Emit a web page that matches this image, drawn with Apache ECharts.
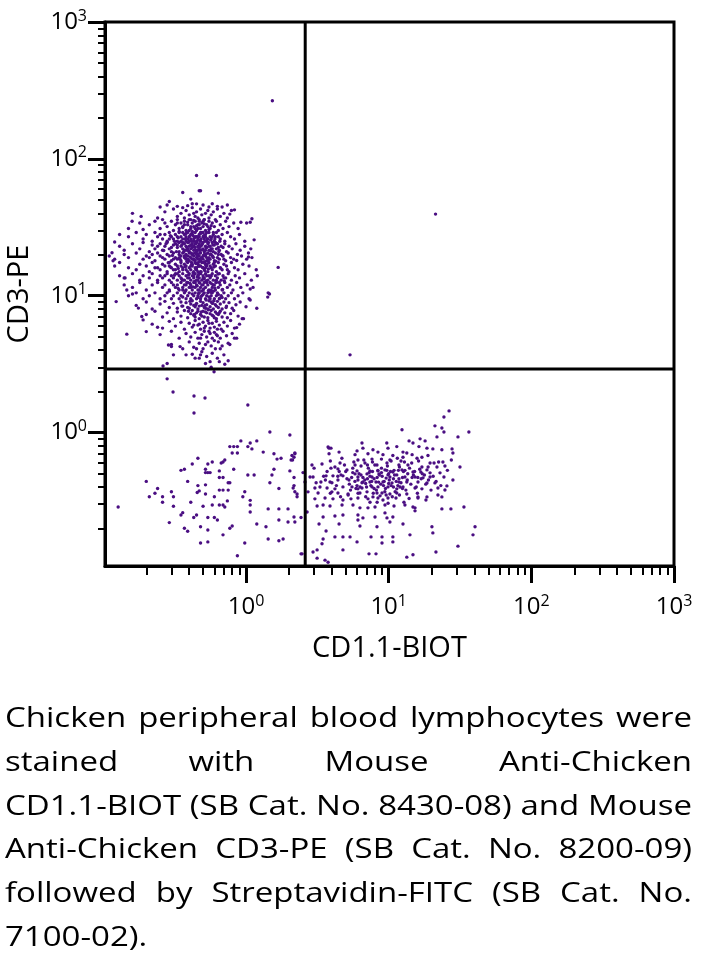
<!DOCTYPE html>
<html>
<head>
<meta charset="utf-8">
<script src="https://cdn.jsdelivr.net/npm/echarts@6/dist/echarts.min.js"></script>
<style>
html,body{margin:0;padding:0;background:#fff;}
#chart{position:absolute;left:0;top:0;width:701px;height:964px;}
#caption{position:absolute;left:5px;top:695px;width:687px;font-family:'Open Sans','Noto Sans',sans-serif;font-size:28px;color:#000;transform-origin:0 0;}
#caption .ln{text-align:justify;text-align-last:justify;line-height:43.8px;height:43.8px;overflow:visible;}
#caption .ln.last{text-align:left;text-align-last:left;}
#probe{position:absolute;left:0;top:0;visibility:hidden;white-space:nowrap;font-family:'Open Sans','Noto Sans',sans-serif;font-size:28px;}
</style>
</head>
<body>
<div id="chart"></div>
<div id="caption"></div>
<span id="probe"></span>
<script>
// ---------- axis / tick values ----------
const xMin = 0.1027, yMin = 0.106, axisMax = 1000;
const majorTicks = [1, 10, 100, 1000];
const tickExponents = ['0', '1', '2', '3'];
const minorTicks = [0.2,0.3,0.4,0.5,0.6,0.7,0.8,0.9,2,3,4,5,6,7,8,9,20,30,40,50,60,70,80,90,200,300,400,500,600,700,800,900];
const gateX = 2.6;   // vertical quadrant gate (CD1.1)
const gateY = 2.91;  // horizontal quadrant gate (CD3)
const xName = 'CD1.1-BIOT';
const yName = 'CD3-PE';
const captionLines = [
  'Chicken peripheral blood lymphocytes were',
  'stained with Mouse Anti-Chicken',
  'CD1.1-BIOT (SB Cat. No. 8430-08) and Mouse',
  'Anti-Chicken CD3-PE (SB Cat. No. 8200-09)',
  'followed by Streptavidin-FITC (SB Cat. No.',
  '7100-02).'
];

// ---------- events: CD3+ population (upper left) ----------
const cd3Positive = [
[0.45,75.6],[0.62,75.6],[0.47,58.5],[0.48,58.5],[0.36,56.8],[0.64,56.2],[0.41,50.8],[0.29,48.8],[0.45,46.9],
[0.28,46],[0.33,45],[0.42,47],[0.50,46],[0.55,44.5],[0.58,47],[0.63,45],[0.68,44.5],[0.74,46],[0.25,44.5],[0.39,45.5],
[0.27,41],[0.31,43],[0.33,38],[0.35,40],[0.37,37],[0.38,42],[0.40,39],[0.41,36],[0.42,44],[0.44,38],[0.45,41],[0.46,37],[0.48,43],[0.49,39],[0.51,36],[0.52,40],[0.54,42],[0.55,37],[0.57,39],[0.59,41],[0.61,36],[0.63,43],[0.66,38],[0.70,40],[0.74,37],[0.79,42],[0.24,37],[0.43,40],[0.47,36],[0.36,44],
[0.21,33],[0.23,35],[0.25,31],[0.27,34],[0.28,32],[0.30,35],[0.31,30],[0.32,33],[0.33,36],[0.34,31],[0.35,34],[0.36,32],[0.37,35],[0.38,30],[0.39,33],[0.40,36],[0.41,31],[0.42,34],[0.43,32],[0.44,35],[0.45,30],[0.46,33],[0.47,35],[0.48,31],[0.49,34],[0.50,32],[0.51,36],[0.52,30],[0.53,33],[0.55,35],[0.56,31],[0.58,34],[0.60,32],[0.62,35],[0.64,30],[0.66,33],[0.69,31],[0.72,35],[0.76,32],[0.82,34],[0.88,31],[0.18,34],[0.26,36],[0.40,30],[0.44,31],[0.37,33],[0.50,35],[0.54,32],[0.33,34],[0.46,31],
[0.15,27],[0.17,29],[0.19,26],[0.20,28],[0.22,25],[0.23,29],[0.24,27],[0.26,26],[0.27,28],[0.28,25],[0.29,29],[0.30,27],[0.31,26],[0.32,28],[0.33,25],[0.34,29],[0.35,27],[0.36,26],[0.37,28],[0.38,25],[0.39,29],[0.40,27],[0.41,26],[0.42,28],[0.43,25],[0.44,29],[0.45,27],[0.46,26],[0.47,28],[0.48,25],[0.49,29],[0.50,27],[0.51,26],[0.52,28],[0.53,25],[0.55,29],[0.56,27],[0.57,26],[0.59,28],[0.60,25],[0.62,29],[0.64,27],[0.66,26],[0.68,28],[0.71,25],[0.74,29],[0.78,27],[0.83,26],[0.90,28],[0.98,25],[0.36,29],[0.39,26],[0.42,29],[0.45,25],[0.47,27],[0.41,28],[0.33,27],[0.29,26],[0.50,29],[0.54,26],[0.58,27],[0.38,27],[0.43,26],[0.25,28],[0.61,27],[0.35,25],[0.44,27],[0.48,29],[0.52,27],[0.40,25],
[0.13,23],[0.14,21.5],[0.16,24],[0.18,22],[0.19,24.5],[0.21,21],[0.22,23.5],[0.23,22],[0.25,24],[0.26,21.5],[0.27,23],[0.28,24.5],[0.29,22],[0.30,21],[0.31,23.5],[0.32,24],[0.33,22.5],[0.34,21],[0.34,24.5],[0.35,23],[0.36,22],[0.37,24],[0.37,21.5],[0.38,23],[0.39,22],[0.39,24.5],[0.40,21],[0.41,23.5],[0.41,22],[0.42,24],[0.43,21.5],[0.43,23],[0.44,22.5],[0.45,24.5],[0.45,21],[0.46,23],[0.47,22],[0.47,24],[0.48,21.5],[0.49,23.5],[0.50,22],[0.50,24.5],[0.51,21],[0.52,23],[0.53,22.5],[0.54,24],[0.55,21.5],[0.56,23],[0.57,22],[0.58,24.5],[0.59,21],[0.60,23.5],[0.62,22],[0.63,24],[0.65,21.5],[0.67,23],[0.69,22.5],[0.71,24],[0.73,21],[0.76,23],[0.80,22],[0.85,24],[0.91,21.5],[0.98,23],[1.08,22],[0.38,21.5],[0.40,23],[0.44,24],[0.46,21.5],[0.42,22.5],[0.36,24.5],[0.52,21.5],[0.48,23],[0.33,23.5],[0.30,22.5],[0.55,23],[0.58,22],[0.24,23],[0.61,24.5],[0.64,22.5],
[0.11,19.5],[0.12,18.5],[0.14,20],[0.15,19],[0.17,20.5],[0.19,18.5],[0.20,19.5],[0.22,20],[0.23,18],[0.24,20.5],[0.26,19],[0.27,18.5],[0.28,20],[0.29,19.5],[0.30,18],[0.31,20.5],[0.32,19],[0.33,18.5],[0.34,20],[0.35,19.5],[0.35,18],[0.36,20.5],[0.37,19],[0.38,18.5],[0.38,20],[0.39,19.5],[0.40,18],[0.40,20.5],[0.41,19],[0.42,18.5],[0.42,20],[0.43,19.5],[0.44,18],[0.44,20.5],[0.45,19],[0.46,18.5],[0.46,20],[0.47,19.5],[0.48,18],[0.48,20.5],[0.49,19],[0.50,18.5],[0.51,20],[0.52,19.5],[0.53,18],[0.54,20.5],[0.55,19],[0.56,18.5],[0.57,20],[0.58,19.5],[0.60,18],[0.61,20.5],[0.63,19],[0.65,18.5],[0.67,20],[0.69,19.5],[0.72,18],[0.75,20.5],[0.78,19],[0.82,18.5],[0.87,20],[0.93,19.5],[1.01,18.5],[1.10,19],[0.39,18.5],[0.41,20.5],[0.43,18.5],[0.45,20],[0.37,19.5],[0.50,19.5],[0.53,19],[0.34,19],[0.31,18.5],[0.47,18.5],[0.56,20],[0.59,19],[0.25,19.5],[0.21,19],[0.64,20],[0.70,18.5],
[0.12,16.5],[0.13,17.5],[0.15,16],[0.17,15.5],[0.18,17],[0.20,16.5],[0.21,15],[0.22,17.5],[0.24,16],[0.25,15.5],[0.26,17],[0.27,16.5],[0.28,15],[0.29,17.5],[0.30,16],[0.31,15.5],[0.32,17],[0.33,16.5],[0.34,15],[0.35,17.5],[0.36,16],[0.36,15.5],[0.37,17],[0.38,16.5],[0.39,15],[0.39,17.5],[0.40,16],[0.41,15.5],[0.42,17],[0.42,16.5],[0.43,15],[0.44,17.5],[0.45,16],[0.45,15.5],[0.46,17],[0.47,16.5],[0.48,15],[0.49,17.5],[0.50,16],[0.51,15.5],[0.52,17],[0.53,16.5],[0.54,15],[0.55,17.5],[0.57,16],[0.58,15.5],[0.59,17],[0.61,16.5],[0.62,15],[0.64,17.5],[0.66,16],[0.68,15.5],[0.70,17],[0.73,16.5],[0.76,15],[0.79,17.5],[0.83,16],[0.88,15.5],[0.95,17],[1.05,16.5],[1.18,15.5],[0.41,16.5],[0.44,16],[0.38,15.5],[0.48,16.5],[0.50,17.5],[0.35,16.5],[0.46,15],[0.52,16],[0.56,16.5],[0.32,15.5],[0.60,17.5],[0.29,16.5],[0.23,16],[0.74,15.5],
[0.13,14],[0.14,13.5],[0.16,14.5],[0.18,13],[0.19,14],[0.21,13.5],[0.22,14.5],[0.24,13],[0.25,14],[0.26,13.5],[0.28,14.5],[0.29,13],[0.30,14],[0.31,13.5],[0.32,14.5],[0.33,13],[0.34,14],[0.35,13.5],[0.36,14.5],[0.37,13],[0.38,14],[0.39,13.5],[0.40,14.5],[0.41,13],[0.42,14],[0.43,13.5],[0.44,14.5],[0.45,13],[0.46,14],[0.47,13.5],[0.48,14.5],[0.49,13],[0.50,14],[0.51,13.5],[0.52,14.5],[0.54,13],[0.55,14],[0.56,13.5],[0.58,14.5],[0.59,13],[0.61,14],[0.63,13.5],[0.65,14.5],[0.67,13],[0.69,14],[0.72,13.5],[0.75,14.5],[0.79,13],[0.84,14],[0.90,13.5],[0.98,14.5],[1.09,13],[1.20,14],[0.43,14],[0.46,13],[0.40,13.5],[0.50,13.5],[0.53,14],[0.36,13],[0.57,14],[0.62,13],[0.33,14.5],[0.27,14],[0.47,14.5],[0.70,13.5],
[0.14,12],[0.16,11.5],[0.18,12.5],[0.20,11],[0.22,12],[0.24,12.5],[0.26,11.5],[0.27,12],[0.29,11],[0.30,12.5],[0.32,11.5],[0.33,12],[0.34,11],[0.35,12.5],[0.36,11.5],[0.37,12],[0.38,11],[0.39,12.5],[0.40,11.5],[0.41,12],[0.42,11],[0.43,12.5],[0.44,11.5],[0.45,12],[0.46,11],[0.47,12.5],[0.48,11.5],[0.49,12],[0.50,11],[0.51,12.5],[0.52,11.5],[0.54,12],[0.55,11],[0.56,12.5],[0.58,11.5],[0.59,12],[0.61,11],[0.62,12.5],[0.64,11.5],[0.66,12],[0.68,11],[0.71,12.5],[0.74,11.5],[0.77,12],[0.81,11],[0.86,12.5],[0.92,11.5],[1.02,12],[1.12,11.5],[0.44,12.5],[0.47,11],[0.50,12],[0.53,12.5],[0.57,11],[0.60,12],[0.38,12],[0.41,11.5],[0.65,12.5],[0.36,11],[0.31,12],
[0.15,10],[0.17,10.5],[0.19,9.5],[0.21,10],[0.23,10.5],[0.25,9.5],[0.27,10],[0.28,10.5],[0.30,9.5],[0.31,10],[0.33,10.5],[0.34,9.5],[0.35,10],[0.37,10.5],[0.38,9.5],[0.39,10],[0.40,10.5],[0.41,9.5],[0.43,10],[0.44,10.5],[0.45,9.5],[0.46,10],[0.47,10.5],[0.48,9.5],[0.49,10],[0.51,10.5],[0.52,9.5],[0.53,10],[0.54,10.5],[0.56,9.5],[0.57,10],[0.58,10.5],[0.60,9.5],[0.62,10],[0.63,10.5],[0.65,9.5],[0.67,10],[0.70,10.5],[0.72,9.5],[0.75,10],[0.79,10.5],[0.83,9.5],[0.88,10],[0.95,10.5],[1.05,9.5],[0.46,9.7],[0.50,10.2],[0.55,9.8],[0.42,10.3],[0.59,10.8],[0.36,9.8],[0.64,10.2],[0.29,10.8],[0.68,9.7],[0.49,10.8],
[0.17,8.5],[0.20,9],[0.22,8],[0.25,8.7],[0.27,9.1],[0.29,8.2],[0.31,8.8],[0.33,8.1],[0.35,9],[0.36,8.4],[0.38,8.9],[0.39,8.2],[0.41,8.7],[0.42,9.2],[0.44,8.3],[0.45,8.8],[0.46,8],[0.48,9.1],[0.49,8.5],[0.50,8.9],[0.52,8.1],[0.53,8.6],[0.55,9.2],[0.56,8.3],[0.58,8.8],[0.59,8],[0.61,8.6],[0.63,9.1],[0.64,8.2],[0.66,8.7],[0.68,8],[0.70,9],[0.73,8.4],[0.76,8.9],[0.80,8.1],[0.85,8.6],[0.91,9],[1.00,8.3],[0.47,8.4],[0.51,8.2],[0.54,8],[0.57,9],[0.43,8.5],[0.62,8.4],[0.40,8.1],
[0.20,7.3],[0.23,7.7],[0.26,7],[0.28,7.5],[0.31,6.8],[0.33,7.6],[0.35,7.1],[0.37,7.8],[0.39,6.9],[0.41,7.4],[0.42,7.8],[0.44,7],[0.45,7.5],[0.47,6.8],[0.48,7.3],[0.50,7.7],[0.51,7],[0.53,7.5],[0.54,6.9],[0.56,7.4],[0.57,7.8],[0.59,7.1],[0.61,7.6],[0.62,6.8],[0.64,7.3],[0.66,7.7],[0.68,7],[0.71,7.5],[0.74,6.9],[0.78,7.4],[0.82,7.8],[0.88,7.1],[0.94,6.8],[0.49,7.1],[0.52,7.6],[0.58,7.2],[0.46,7.7],[0.60,6.9],[0.43,7.2],[0.65,7.5],
[0.22,6.2],[0.26,5.8],[0.29,6.5],[0.32,6],[0.35,6.4],[0.37,5.7],[0.40,6.3],[0.42,5.9],[0.44,6.6],[0.46,6.1],[0.48,5.7],[0.50,6.4],[0.52,6],[0.54,6.6],[0.56,5.8],[0.58,6.3],[0.60,5.9],[0.62,6.5],[0.65,6.1],[0.67,5.7],[0.70,6.4],[0.74,6],[0.78,6.6],[0.83,5.8],[0.90,6.2],[0.51,5.8],[0.55,6.3],[0.47,6.2],[0.63,5.7],[0.43,6.1],
[0.25,5.2],[0.30,5.5],[0.34,4.9],[0.38,5.3],[0.41,5],[0.44,5.4],[0.46,4.9],[0.49,5.2],[0.51,5.5],[0.53,5],[0.56,5.3],[0.58,4.9],[0.60,5.4],[0.63,5.1],[0.66,4.9],[0.69,5.5],[0.73,5.1],[0.80,5.3],[0.86,4.9],[0.48,4.9],[0.55,5.5],[0.62,5.2],
[0.30,4.4],[0.36,4.1],[0.40,4.6],[0.43,4.2],[0.47,4.5],[0.50,4.1],[0.54,4.6],[0.57,4.3],[0.61,4.1],[0.64,4.6],[0.68,4.3],[0.75,4.5],[0.45,4.1],[0.52,4.4],[0.60,4.7],
[0.38,3.7],[0.44,3.5],[0.49,3.9],[0.53,3.6],[0.58,3.8],[0.63,3.5],[0.70,3.7],[0.47,3.5],
[0.28,3.2],[0.57,3.0],[0.65,3.3],[0.52,3.2],
[0.16,40],[0.159,35],[0.184,38],[0.19,30.5],[0.115,20.6],[0.117,18],[0.142,13.5],[0.12,24.7],[0.13,28],[0.15,31],[0.123,9.06],[0.146,5.24],[0.262,3.07],[0.20,5.47],[0.24,5.89],[0.176,8.12],[0.186,7.05],[0.19,6.66],[0.146,11.0],[0.16,10.3],[0.286,4.37],[0.30,4.25],[0.345,4.25],[0.31,3.7],
[1.07,34.4],[0.92,34.4],[1.14,25.6],[1.04,20.5],[1.04,19.2],[0.86,18.1],[0.83,42.4],[0.77,39.5],[1.10,36.5],[1.01,34],[1.07,11.2],[1.43,10.5],[1.19,8.1],[0.96,6.8],[1.07,9.3],[0.86,5.85],[0.83,4.9],[0.77,4.4],[0.66,4.1],[0.75,3.35],[0.71,3.16],[0.56,3.3],[0.48,3.7],[0.42,3.74],[1.46,10.3],[1.42,9.77],[1.68,16.1],
[0.36,31.5],[0.39,34.5],[0.42,29.5],[0.45,32.5],[0.48,28.5],[0.51,33.5],[0.55,30.5],[0.59,29],[0.43,35.5],[0.38,28.5],[0.47,33],[0.53,29],[0.41,32],[0.57,32.5],[0.34,29.5],
[0.335,26.5],[0.355,23.5],[0.375,26],[0.395,24.5],[0.405,27.5],[0.415,25],[0.425,23],[0.435,26.5],[0.445,24],[0.455,27],[0.465,25.5],[0.475,23],[0.485,26],[0.495,24],[0.505,27.5],[0.515,25],[0.525,22.5],[0.535,26],[0.545,24.5],[0.565,25.5],[0.585,23.5],[0.605,26],[0.625,24],[0.655,25],[0.315,25],[0.295,27.5],[0.275,24],[0.385,22.5],[0.425,27.5],[0.465,22.5],
[0.325,21],[0.345,18.5],[0.365,20.8],[0.385,17.8],[0.395,21.3],[0.405,19.2],[0.415,17.5],[0.425,20.3],[0.435,18.2],[0.445,21.5],[0.455,19.3],[0.465,17.6],[0.475,20.6],[0.485,18.8],[0.495,21.7],[0.505,19.7],[0.515,17.7],[0.525,20.2],[0.545,18.3],[0.565,21.2],[0.585,19.4],[0.615,17.9],[0.645,21],[0.685,19.6],[0.305,19.7],[0.285,17.4],[0.265,21.4],[0.445,17.2],[0.375,19.1],[0.535,17.1],
[0.335,15.8],[0.355,13.2],[0.375,16.3],[0.395,14.2],[0.405,12.3],[0.415,16.8],[0.425,14.7],[0.435,12.7],[0.445,15.6],[0.455,13.7],[0.465,16.4],[0.475,12.4],[0.485,14.9],[0.495,16.1],[0.505,13.3],[0.515,15.2],[0.525,12.9],[0.545,15.7],[0.565,13.9],[0.595,16.2],[0.615,12.6],[0.635,14.4],[0.665,15.9],[0.705,12.8],[0.315,14.1],[0.295,16.2],[0.385,12.5],[0.575,12.2],[0.465,14.3],[0.525,16.7],
[0.375,10.8],[0.405,9.1],[0.425,11.6],[0.445,8.6],[0.465,10.4],[0.485,7.6],[0.505,11.2],[0.525,9.3],[0.545,7.9],[0.565,10.6],[0.585,8.8],[0.605,11.4],[0.625,7.4],[0.655,9.6],[0.685,11.1],[0.725,8.2],[0.355,8.4],[0.335,11.3],[0.455,11.8],[0.515,8.5],[0.485,9.9],[0.545,10.9],[0.435,7.3],[0.595,9.2],[0.395,7.7]
];

// ---------- events: double negative population (lower left) ----------
const doubleNegative = [
[0.597,2.78],[0.28,2.47],[0.308,1.98],[0.432,1.85],[0.516,1.79],[0.432,1.39],[1.03,1.59],
[0.127,0.286],[0.20,0.44],[0.21,0.34],[0.23,0.36],[0.24,0.39],[0.26,0.31],[0.26,0.34],[0.29,0.22],[0.30,0.37],[0.31,0.34],[0.31,0.29],[0.35,0.53],[0.35,0.25],[0.36,0.26],[0.37,0.54],[0.39,0.44],[0.37,0.20],[0.39,0.19],[0.41,0.31],[0.42,0.59],[0.43,0.24],[0.45,0.25],[0.46,0.65],[0.46,0.41],[0.47,0.375],[0.455,0.365],[0.48,0.205],[0.48,0.156],[0.50,0.29],[0.52,0.415],[0.52,0.356],[0.52,0.54],[0.52,0.51],[0.54,0.59],[0.54,0.51],[0.56,0.51],[0.54,0.24],[0.54,0.194],[0.54,0.159],[0.58,0.61],[0.58,0.296],[0.60,0.34],[0.60,0.24],[0.63,0.23],[0.65,0.525],[0.65,0.47],[0.65,0.38],[0.65,0.296],[0.67,0.60],[0.69,0.61],[0.69,0.47],[0.69,0.38],[0.69,0.296],[0.69,0.179],[0.71,0.63],[0.71,0.286],[0.74,0.317],[0.75,0.43],[0.75,0.38],[0.77,0.79],[0.77,0.43],[0.77,0.20],[0.80,0.208],[0.80,0.71],[0.82,0.79],[0.82,0.54],[0.87,0.79],[0.87,0.71],[0.87,0.126],[0.92,0.87],[0.95,0.34],[0.98,0.37],[0.98,0.156],[1.03,0.79],[1.03,0.49],[1.07,0.84],[1.07,0.32],[1.07,0.296],[1.07,0.263],[1.10,0.76],[1.14,0.49],[1.19,0.87],[1.19,0.215],[1.32,0.72],[1.38,0.205],[1.43,0.277],[1.43,0.167],[1.47,1.01],[1.47,0.43],[1.52,0.49],[1.57,0.70],[1.57,0.54],[1.65,0.64],[1.70,0.277],[1.70,0.23],[1.70,0.39],[1.70,0.162],[1.76,0.65],[1.82,0.167],[1.97,0.277],[1.97,0.222],[2.03,0.96],[2.03,0.525],[2.07,0.63],[2.10,0.68],[2.12,0.63],[2.17,0.47],[2.17,0.41],[2.20,0.70],[2.20,0.37],[2.20,0.222],[2.28,0.34],[2.43,0.24],[2.43,0.13],[2.51,0.51],
[2.17,0.66],[2.2,0.71],[2.28,0.356],[2.14,0.394],[2.17,0.242],[2.47,0.13]
];

// ---------- events: CD1.1+ population (lower right) ----------
const cd11Positive = [
[26.5,1.44],[24.4,1.30],[21.1,1.12],[23.6,1.08],[36.5,1.01],[30.6,0.93],[12.4,1.05],[21.8,0.93],[24.4,1.01],[16.6,0.90],[18.0,0.87],[6.5,0.84],[9.7,0.84],[13.9,0.87],[14.8,0.84],
[3.82,0.77],[3.94,0.77],[4.49,0.72],[6.0,0.735],[6.6,0.77],[7.76,0.75],[8.41,0.72],[9.89,0.77],[11.4,0.79],[12.6,0.72],[13.4,0.71],[16.3,0.79],[18.55,0.77],[20.4,0.76],[23.6,0.75],[27.8,0.76],[28.2,0.71],
[3.82,0.70],[5.81,0.69],[7.16,0.70],[9.12,0.69],[10.7,0.68],[12.6,0.66],[14.6,0.69],[17.1,0.66],[18.85,0.68],
[6.09,0.63],[7.64,0.64],[10.2,0.63],[12.2,0.62],[15.8,0.65],[19.5,0.60],[20.8,0.60],[24.0,0.61],
[2.9,0.58],[3.41,0.59],[4.56,0.60],[5.81,0.58],[6.82,0.60],[8.28,0.58],[9.73,0.60],[11.8,0.58],[13.65,0.58],[17.1,0.56],[18.55,0.534],[21.8,0.56],[24.8,0.57],[31.6,0.56],
[3.0,0.55],[3.94,0.55],[4.41,0.543],[5.1,0.534],[6.0,0.525],[7.39,0.525],[8.41,0.525],[9.42,0.534],[10.7,0.516],[12.4,0.534],[14.8,0.516],[16.8,0.516],[19.5,0.508],[22.9,0.508],
[2.95,0.474],[2.81,0.474],[3.64,0.483],[4.07,0.483],[4.63,0.491],[4.78,0.483],[5.81,0.499],[6.09,0.474],[7.05,0.499],[7.64,0.474],[8.55,0.499],[9.89,0.491],[10.2,0.474],[11.4,0.491],[13.0,0.474],[15.3,0.474],[17.4,0.467],[19.5,0.474],[24.4,0.474],[28.2,0.451],
[3.35,0.436],[3.88,0.436],[4.41,0.451],[5.27,0.451],[6.09,0.451],[6.6,0.436],[7.39,0.436],[8.15,0.436],[9.12,0.436],[10.55,0.429],[11.8,0.436],[13.4,0.436],[16.05,0.436],[18.55,0.429],[21.1,0.429],[25.6,0.408],
[3.04,0.394],[3.7,0.394],[4.2,0.388],[4.78,0.401],[5.53,0.401],[6.09,0.388],[6.5,0.394],[7.64,0.401],[8.41,0.401],[9.89,0.401],[11.4,0.388],[12.6,0.401],[15.3,0.394],[17.1,0.388],[22.15,0.394],[24.8,0.381],
[2.72,0.369],[3.2,0.362],[4.0,0.369],[4.41,0.362],[5.19,0.356],[6.29,0.362],[7.05,0.369],[8.28,0.362],[8.98,0.362],[10.2,0.356],[11.4,0.362],[13.4,0.356],[16.05,0.339],[18.55,0.339],[22.15,0.35],[23.6,0.339],
[3.04,0.328],[3.58,0.333],[4.07,0.328],[4.78,0.322],[5.44,0.328],[6.09,0.333],[7.16,0.328],[7.76,0.339],[8.41,0.333],[9.12,0.322],[9.89,0.333],[11.25,0.333],[16.05,0.333],[18.25,0.322],
[3.15,0.291],[3.47,0.296],[3.88,0.291],[4.71,0.296],[5.62,0.296],[6.29,0.282],[7.16,0.282],[8.02,0.286],[9.42,0.296],[10.9,0.291],[13.0,0.296],[15.3,0.282],[23.6,0.277],[27.3,0.277],[33.7,0.286],
[2.68,0.263],[3.47,0.242],[4.2,0.246],[4.78,0.25],[6.09,0.25],[6.6,0.238],[8.02,0.242],[9.42,0.259],[9.73,0.238],[10.7,0.242],[14.8,0.286],[15.3,0.268],
[3.25,0.215],[4.49,0.215],[6.09,0.23],[6.29,0.208],[8.28,0.205],[10.2,0.222],[12.6,0.215],[20.1,0.205],[40.3,0.205],
[3.64,0.191],[4.2,0.173],[4.78,0.173],[5.36,0.173],[7.52,0.173],[8.98,0.173],[10.7,0.173],[20.4,0.185],[39.0,0.179],
[3.47,0.167],[3.41,0.154],[3.15,0.139],[2.95,0.134],[6.0,0.159],[8.98,0.156],[10.7,0.159],[14.1,0.179],[21.45,0.134],[30.6,0.148],[4.78,0.139],[7.28,0.13],[8.15,0.13],[13.4,0.123],[14.8,0.128],
[2.59,0.436],[3.15,0.121],[3.58,0.117],[3.76,0.113],[3.76,0.786],
[5.0,0.52],[5.5,0.47],[6.2,0.50],[6.8,0.45],[7.3,0.51],[7.9,0.46],[8.6,0.49],[9.3,0.44],[10.0,0.50],[10.8,0.46],[11.6,0.41],[12.5,0.47],[5.3,0.42],[5.9,0.39],[6.5,0.43],[7.0,0.40],[7.6,0.44],[8.2,0.38],[8.8,0.42],[9.5,0.39],[10.4,0.41],[11.1,0.37],[12.0,0.40],[13.2,0.38],[14.3,0.42],[15.6,0.40],[4.4,0.48],[4.0,0.43],[3.7,0.52],[4.2,0.56],
[4.9,0.58],[5.6,0.55],[6.4,0.57],[7.2,0.55],[8.0,0.58],[8.9,0.55],[9.8,0.57],[10.9,0.53],[11.9,0.56],[13.0,0.53],[14.0,0.55],[15.2,0.52],[16.5,0.54],[17.8,0.49],[19.0,0.45],[20.5,0.48],[18.2,0.42],[16.9,0.46],[14.6,0.47],[13.6,0.50],
[6.1,0.36],[6.9,0.34],[7.8,0.36],[8.7,0.345],[9.6,0.35],[10.6,0.34],[11.9,0.35],[13.9,0.33],[5.2,0.35],[4.6,0.34],[3.9,0.36],[3.3,0.40],[3.6,0.45],[4.3,0.41],
[5.7,0.61],[6.7,0.63],[7.7,0.61],[8.9,0.64],[10.4,0.62],[11.5,0.65],[12.9,0.61],[14.5,0.60],[16.2,0.62],[4.7,0.65],[3.9,0.62],[9.0,0.48],[7.4,0.48],[6.6,0.47],[5.8,0.44],[10.1,0.45],[11.3,0.44],[12.2,0.43],[9.7,0.53],[8.4,0.53],[7.1,0.58],[6.3,0.40],[5.4,0.38],
[8.3,0.31],[9.9,0.305],[7.4,0.31],[12.8,0.31],[15.9,0.36],[19.8,0.38],[21.5,0.44],[23.2,0.41],[18.9,0.56],[22.4,0.61],[25.8,0.53],[27.5,0.63],
[6.4,0.49],[7.1,0.46],[7.7,0.52],[8.3,0.47],[8.9,0.51],[9.6,0.465],[10.3,0.52],[11.0,0.49],[11.8,0.46],[6.9,0.425],[7.5,0.41],[8.5,0.435],[9.2,0.41],[10.0,0.425],[10.8,0.40],[5.6,0.51],[5.1,0.46],[12.7,0.52],[13.5,0.45],[14.9,0.49],[16.0,0.47],[17.2,0.50],[4.5,0.52],[3.5,0.48],[3.1,0.43],[6.0,0.41],[12.5,0.39],[9.4,0.37],[7.9,0.39],[11.7,0.53]
];

// ---------- isolated events ----------
const outliers = [[1.53,266],[21.3,39.5],[5.36,3.70]];

// ---------- chart ----------
const FONT = "'Open Sans','Noto Sans',sans-serif";
const dotColor = '#4a0e82';
function supLabel(v) {
  let i = majorTicks.findIndex(t => Math.abs(Math.log10(t) - Math.log10(v)) < 0.01);
  const e = i >= 0 ? tickExponents[i] : String(Math.round(Math.log10(v)));
  return '{b|10}{s|' + e + '}';
}
const labelRich = {
  b: { fontSize: 24, fontFamily: FONT, color: '#000' },
  s: { fontSize: 16, fontFamily: FONT, color: '#000', padding: [0, 0, 12, 0] }
};
function majorAxis(extra) {
  return Object.assign({
    type: 'log', logBase: 10, max: axisMax,
    axisLine: { show: true, lineStyle: { color: '#000', width: 3 } },
    axisTick: { show: true, customValues: majorTicks, length: 17, lineStyle: { color: '#000', width: 3 } },
    splitLine: { show: false }, minorTick: { show: false }, minorSplitLine: { show: false },
    nameLocation: 'middle',
    nameTextStyle: { fontSize: 29, fontFamily: FONT, color: '#000' }
  }, extra);
}
function minorAxis(extra) {
  return Object.assign({
    type: 'log', logBase: 10, max: axisMax,
    axisLine: { show: false },
    axisLabel: { show: false },
    splitLine: { show: false }
  }, extra);
}
const dotSeries = (name, data) => ({
  name, type: 'scatter', data, xAxisIndex: 0, yAxisIndex: 0,
  symbol: 'circle', symbolSize: 3.4, silent: true, animation: false,
  itemStyle: { color: dotColor, opacity: 1 }, z: 2
});
const chart = echarts.init(document.getElementById('chart'), null, { renderer: 'canvas' });
chart.setOption({
  animation: false,
  backgroundColor: '#fff',
  grid: { left: 105, right: 27, top: 22, bottom: 398, show: true, borderColor: '#000', borderWidth: 3, containLabel: false, outerBoundsMode: 'none' },
  xAxis: [
    majorAxis({ min: xMin, position: 'bottom', name: xName, nameGap: 68,
      axisLabel: { show: true, customValues: majorTicks, formatter: supLabel, rich: labelRich, margin: 27 } }),
    minorAxis({ min: xMin, position: 'bottom', axisTick: { show: true, customValues: minorTicks, length: 9, lineStyle: { color: '#000', width: 2 } } })
  ],
  yAxis: [
    majorAxis({ min: yMin, position: 'left', name: yName, nameGap: 71,
      axisLabel: { show: true, customValues: majorTicks, formatter: supLabel, rich: labelRich, margin: 18 } }),
    minorAxis({ min: yMin, position: 'left', axisTick: { show: true, customValues: minorTicks, length: 7, lineStyle: { color: '#000', width: 2 } } })
  ],
  series: [
    dotSeries('CD3+', cd3Positive),
    dotSeries('CD3- CD1.1-', doubleNegative),
    dotSeries('CD1.1+', cd11Positive),
    dotSeries('Other', outliers),
    { name: 'Gate CD1.1', type: 'line', xAxisIndex: 0, yAxisIndex: 0, data: [[gateX, yMin], [gateX, axisMax]], symbol: 'none', silent: true, lineStyle: { color: '#000', width: 3 }, z: 5, animation: false },
    { name: 'Gate CD3', type: 'line', xAxisIndex: 0, yAxisIndex: 0, data: [[xMin, gateY], [axisMax, gateY]], symbol: 'none', silent: true, lineStyle: { color: '#000', width: 3 }, z: 5, animation: false }
  ]
});

// ---------- caption ----------
const cap = document.getElementById('caption');
const probe = document.getElementById('probe');
let maxW = 0;
captionLines.forEach(l => { probe.textContent = l; maxW = Math.max(maxW, probe.getBoundingClientRect().width); });
probe.textContent = '';
const sx = 686 / maxW;
cap.style.width = (687 / sx) + 'px';
cap.style.transform = 'scaleX(' + sx + ')';
captionLines.forEach((l, i) => {
  const d = document.createElement('div');
  d.className = 'ln' + (i === captionLines.length - 1 ? ' last' : '');
  d.textContent = l;
  cap.appendChild(d);
});
</script>
</body>
</html>
